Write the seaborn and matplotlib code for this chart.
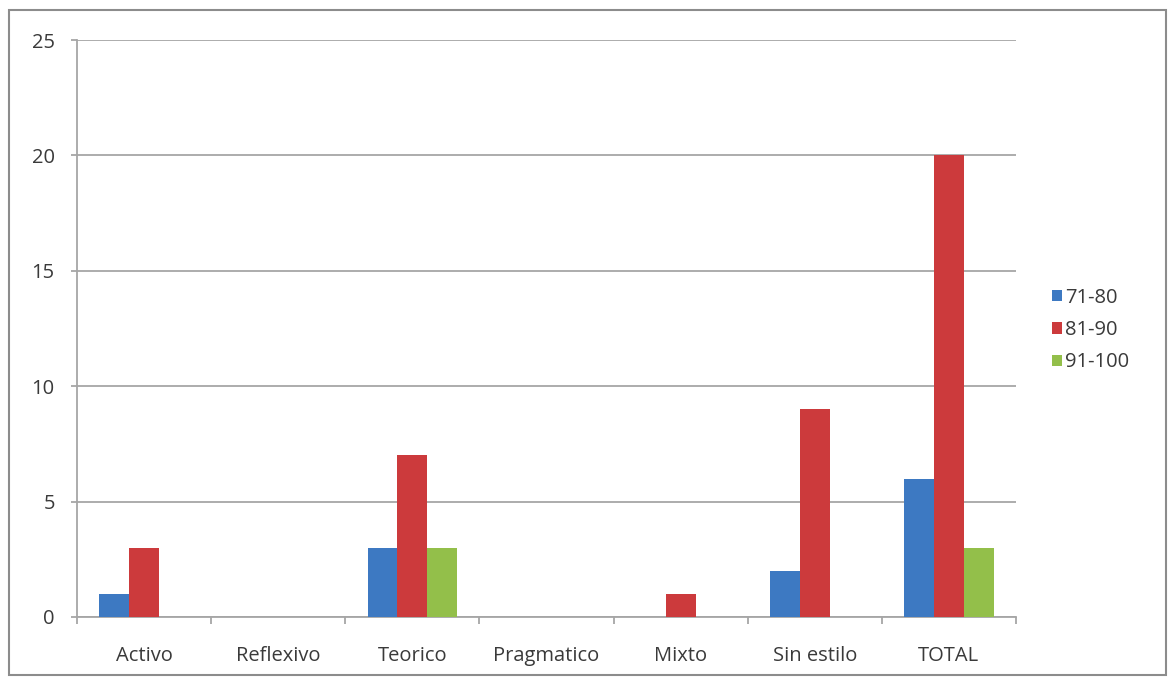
import matplotlib
matplotlib.use("Agg")
import matplotlib.pyplot as plt
from matplotlib.patches import Rectangle
import numpy as np
import pandas as pd
import seaborn as sns

# Learning-style counts per score range
categories = ["Activo", "Reflexivo", "Teorico", "Pragmatico", "Mixto", "Sin estilo", "TOTAL"]
series_names = ["71-80", "81-90", "91-100"]
vals_71_80 = [1, 0, 3, 0, 0, 2, 6]
vals_81_90 = [3, 0, 7, 0, 1, 9, 20]
vals_91_100 = [0, 0, 3, 0, 0, 0, 3]
y_ticks = [0, 5, 10, 15, 20, 25]

colors = ["#3D79C2", "#CC3A3C", "#93BF4A"]

df = pd.DataFrame({
    "estilo": categories * 3,
    "rango": [series_names[0]] * 7 + [series_names[1]] * 7 + [series_names[2]] * 7,
    "valor": vals_71_80 + vals_81_90 + vals_91_100,
})

sns.set_theme(style="white")
plt.rcParams["font.family"] = ["Open Sans", "DejaVu Sans"]

fig = plt.figure(figsize=(11.71, 6.80), dpi=100)
ax = fig.add_axes([77 / 1171, 1 - 617 / 680, (1016 - 77) / 1171, (617 - 40) / 680])

sns.barplot(data=df, x="estilo", y="valor", hue="rango", order=categories,
            hue_order=series_names, palette=colors, width=0.665, gap=0,
            linewidth=0, saturation=1, ax=ax, legend=True, zorder=3)

ax.set_ylim(0, 25)
ax.set_xlim(-0.5, len(categories) - 0.5)
ax.set_yticks(y_ticks)
ax.set_xlabel("")
ax.set_ylabel("")

grid_col = "#A6A6A6"
for t in y_ticks:
    ax.axhline(t, color=grid_col, lw=1.3, zorder=1)

for side in ["top", "right"]:
    ax.spines[side].set_visible(False)
for side in ["left", "bottom"]:
    ax.spines[side].set_color(grid_col)
    ax.spines[side].set_linewidth(1.3)

text_col = "#3A3A3A"
fs = 14.5
ax.tick_params(axis="y", length=4, width=1.3, color=grid_col, pad=12,
               labelsize=fs, labelcolor=text_col, left=True)
ax.tick_params(axis="x", which="major", length=0, pad=21,
               labelsize=fs, labelcolor=text_col)
ax.set_xticks(np.arange(-0.5, len(categories), 1), minor=True)
ax.tick_params(axis="x", which="minor", length=5, width=1.3, color=grid_col,
               bottom=True)

handles, labels = ax.get_legend_handles_labels()
ax.get_legend().remove()
fig.legend(handles, labels, loc="center left",
           bbox_to_anchor=(1034 / 1171, 1 - 330 / 680), frameon=False,
           fontsize=fs, handlelength=0.5, handleheight=0.5,
           handletextpad=0.15, labelspacing=0.62, labelcolor=text_col)

# outer chart border
fig.patches.append(Rectangle((9 / 1171, 5 / 680), 1157 / 1171, 665 / 680,
                             transform=fig.transFigure, fill=False,
                             edgecolor="#8C8C8C", lw=1.5))

fig.savefig("out.png", dpi=100, facecolor="white")
